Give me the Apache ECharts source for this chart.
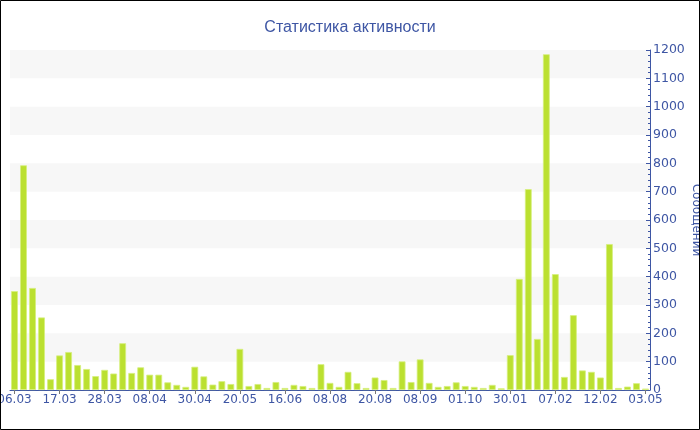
<!DOCTYPE html>
<html>
<head>
<meta charset="utf-8">
<script src="https://cdn.jsdelivr.net/npm/echarts@6/dist/echarts.min.js"></script>
<style>
html,body{margin:0;padding:0;background:#fff;}
#c{width:700px;height:430px;}
</style>
</head>
<body>
<div id="c"></div>
<script>
const categories = [
 '06.03','07.03','09.03','11.03','14.03',
 '17.03','19.03','21.03','23.03','26.03',
 '28.03','30.03','01.04','03.04','06.04',
 '08.04','12.04','17.04','22.04','26.04',
 '30.04','04.05','09.05','13.05','17.05',
 '20.05','25.05','31.05','05.06','11.06',
 '16.06','24.06','03.07','15.07','28.07',
 '08.08','10.08','13.08','15.08','18.08',
 '20.08','23.08','27.08','31.08','04.09',
 '08.09','12.09','17.09','22.09','26.09',
 '01.10','15.10','04.11','09.12','12.01',
 '30.01','01.02','02.02','04.02','05.02',
 '07.02','08.02','09.02','10.02','11.02',
 '12.02','13.02','27.02','10.03','22.04',
 '03.05'
];
const messages = [
 349,793,360,256,38,
 122,134,88,74,49,
 71,58,165,60,80,
 54,54,27,18,11,
 82,48,19,31,21,
 145,14,21,7,28,
 7,18,14,7,91,
 25,11,64,24,7,
 44,35,7,101,28,
 108,25,11,14,27,
 14,11,7,18,6,
 123,392,709,180,1185,
 409,46,264,69,64,
 44,515,7,12,24,
 5
];
const titleText = 'Статистика активности';
const yName = 'Сообщений';

const blue = '#3e56a4';
const chart = echarts.init(document.getElementById('c'));
chart.setOption({
  backgroundColor: '#fff',
  animation: false,
  title: {
    text: titleText,
    left: 'center',
    top: 15,
    textStyle: {color: blue, fontSize: 16, fontWeight: 'normal', fontFamily: 'Liberation Sans'}
  },
  grid: {left: 10, right: 50, top: 50, bottom: 40, containLabel: false, outerBoundsMode: 'none'},
  xAxis: {
    type: 'category',
    data: categories,
    axisLine: {lineStyle: {color: blue, width: 1}},
    axisTick: {show: true, interval: 4, alignWithLabel: true, length: 4, lineStyle: {color: '#777'}},
    axisLabel: {interval: 4, color: blue, fontSize: 12, fontFamily: 'DejaVu Sans', margin: 4, hideOverlap: false}
  },
  yAxis: {
    type: 'value',
    position: 'right',
    min: 0, max: 1200, interval: 100,
    name: yName,
    nameLocation: 'middle',
    nameRotate: -90,
    nameGap: 40,
    nameMoveOverlap: false,
    nameTextStyle: {color: blue, fontSize: 12, fontFamily: 'DejaVu Sans'},
    axisLine: {show: true, lineStyle: {color: blue, width: 1}},
    axisTick: {show: true, inside: true, length: 4, lineStyle: {color: blue}},
    minorTick: {show: true, splitNumber: 5, length: 2, lineStyle: {color: blue}},
    axisLabel: {color: blue, fontSize: 12.5, fontFamily: 'DejaVu Sans', margin: 3, formatter: function (v) { return String(v); }},
    splitLine: {show: false},
    splitArea: {show: true, areaStyle: {color: ['rgba(255,255,255,0)', '#f7f7f7']}}
  },
  series: [{
    type: 'bar',
    data: messages,
    barCategoryGap: '25%',
    itemStyle: {color: '#bbe030', borderColor: '#d6ef7c', borderWidth: 0.8}
  }],
  graphic: [{
    type: 'rect',
    z: 100,
    silent: true,
    shape: {x: 0.5, y: 0.5, width: 699, height: 429},
    style: {fill: 'none', stroke: '#000', lineWidth: 1}
  }]
});
</script>
</body>
</html>
